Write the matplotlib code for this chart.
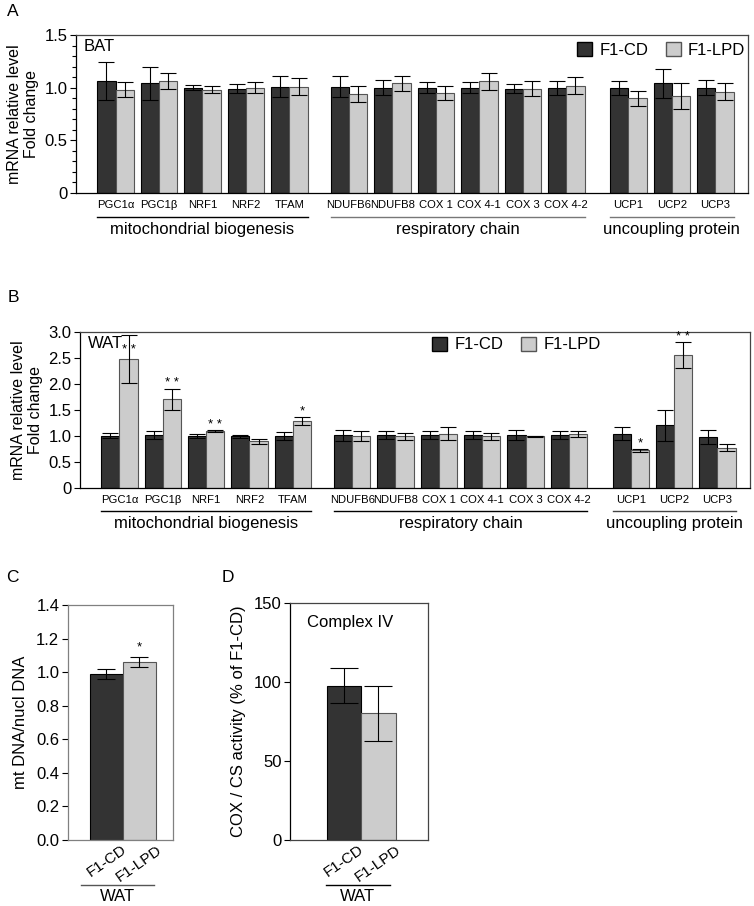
import numpy as np
import matplotlib
matplotlib.use('Agg')
import matplotlib.pyplot as plt
from matplotlib.patches import Patch
from matplotlib.ticker import MultipleLocator

plt.rcParams['font.family'] = ['Liberation Sans', 'DejaVu Sans']

# ---- data -------------------------------------------------------------
genes = ['PGC1α', 'PGC1β', 'NRF1', 'NRF2', 'TFAM',
         'NDUFB6', 'NDUFB8', 'COX 1', 'COX 4-1', 'COX 3', 'COX 4-2',
         'UCP1', 'UCP2', 'UCP3']
group_names = ['mitochondrial biogenesis', 'respiratory chain', 'uncoupling protein']
group_sizes = [5, 6, 3]

# panel A - BAT
bat_cd = [1.06, 1.04, 1.00, 0.99, 1.01, 1.01, 1.00, 1.00, 1.00, 0.99, 1.00, 1.00, 1.04, 1.00]
bat_cd_err = [0.18, 0.155, 0.025, 0.045, 0.10, 0.10, 0.07, 0.05, 0.05, 0.043, 0.068, 0.067, 0.14, 0.07]
bat_lpd = [0.98, 1.06, 0.98, 1.00, 1.01, 0.94, 1.04, 0.95, 1.06, 0.99, 1.02, 0.90, 0.92, 0.96]
bat_lpd_err = [0.07, 0.075, 0.035, 0.05, 0.078, 0.08, 0.07, 0.068, 0.082, 0.07, 0.08, 0.07, 0.12, 0.08]

# panel B - WAT
wat_cd = [1.00, 1.01, 0.99, 0.99, 1.00, 1.01, 1.01, 1.01, 1.01, 1.01, 1.01, 1.04, 1.20, 0.98]
wat_cd_err = [0.05, 0.083, 0.035, 0.03, 0.077, 0.105, 0.08, 0.083, 0.083, 0.093, 0.083, 0.128, 0.30, 0.13]
wat_lpd = [2.48, 1.70, 1.09, 0.89, 1.28, 0.99, 0.99, 1.04, 0.99, 0.99, 1.03, 0.72, 2.55, 0.77]
wat_lpd_err = [0.465, 0.205, 0.025, 0.045, 0.077, 0.095, 0.064, 0.128, 0.07, 0.013, 0.06, 0.032, 0.25, 0.07]
wat_stars = ['* *', '* *', '* *', '', '*', '', '', '', '', '', '', '*', '* *', '']

# panel C - mtDNA
groups_cd = ['F1-CD', 'F1-LPD']
mtdna = [0.99, 1.06]
mtdna_err = [0.03, 0.03]
mtdna_stars = ['', '*']

# panel D - COX/CS
cox = [97.5, 80.0]
cox_err = [11.0, 17.5]

DARK = '#333333'
LIGHT = '#cccccc'
FS = 12
W, H = 754, 906
fig = plt.figure(figsize=(W / 100, H / 100), dpi=100)


def px_axes(left, top, right, bottom):
    return fig.add_axes([left / W, 1 - bottom / H, (right - left) / W, (bottom - top) / H])


# x positions: groups separated by a wider gap
offsets = [0.0, 5.37, 11.8]
xpos = []
for off, n in zip(offsets, group_sizes):
    xpos.extend(off + np.arange(n))
xpos = np.array(xpos)
bw = 0.42


def gene_panel(ax, cd, cd_err, lpd, lpd_err, ymax, ystep, tissue, line_y, text_y,
               legend_xy, line_colors, minor=None, stars=None):
    ax.bar(xpos - bw / 2, cd, bw, color=DARK, edgecolor='black', linewidth=0.8)
    ax.bar(xpos + bw / 2, lpd, bw, color=LIGHT, edgecolor='#555555', linewidth=0.8)
    ax.errorbar(xpos - bw / 2, cd, yerr=cd_err, fmt='none', ecolor='black',
                elinewidth=0.8, capsize=5.5, capthick=0.8)
    ax.errorbar(xpos + bw / 2, lpd, yerr=lpd_err, fmt='none', ecolor='black',
                elinewidth=0.8, capsize=5.5, capthick=0.8)
    ax.set_xlim(-0.91, 14.55)
    ax.set_ylim(0, ymax)
    ax.set_yticks(np.arange(0, ymax + 1e-9, ystep))
    ax.set_yticklabels(['0'] + [f'{v:.1f}' for v in np.arange(ystep, ymax + 1e-9, ystep)])
    if minor:
        ax.yaxis.set_minor_locator(MultipleLocator(minor))
        ax.tick_params(axis='y', which='minor', length=3, width=0.8)
    ax.tick_params(axis='y', which='major', labelsize=FS, length=4, width=0.8, pad=2)
    ax.set_xticks(xpos)
    ax.set_xticklabels(genes, fontsize=8.1)
    ax.tick_params(axis='x', length=0, pad=5)
    ax.set_ylabel('mRNA relative level\nFold change', fontsize=11.5, labelpad=4)
    for s in ['top', 'right']:
        ax.spines[s].set_color('#444444')
    for sp in ax.spines.values():
        sp.set_linewidth(0.9)
    ax.text(0.012, 0.925, tissue, transform=ax.transAxes, fontsize=FS, va='center')

    trans = ax.get_xaxis_transform()
    start = 0
    for name, n, lc in zip(group_names, group_sizes, line_colors):
        x0 = xpos[start] - bw
        x1 = xpos[start + n - 1] + bw
        ax.plot([x0, x1], [line_y, line_y], color=lc, lw=1.0, transform=trans, clip_on=False)
        ax.text((x0 + x1) / 2, text_y, name, transform=trans, ha='center', va='center',
                fontsize=FS)
        start += n

    if stars:
        for x, m, e, s in zip(xpos + bw / 2, lpd, lpd_err, stars):
            if not s:
                continue
            y = m + e + 0.1
            if y > ymax - 0.05:
                y = m + 0.17
            ax.text(x, y, s, ha='center', va='center', fontsize=9.5)

    handles = [Patch(facecolor=DARK, edgecolor='black', label='F1-CD'),
               Patch(facecolor=LIGHT, edgecolor='#555555', label='F1-LPD')]
    ax.legend(handles=handles, loc='center left', bbox_to_anchor=legend_xy, ncol=2,
              frameon=False, fontsize=FS, handlelength=0.9, handleheight=0.9,
              handletextpad=0.45, columnspacing=1.05, borderpad=0, borderaxespad=0)


# ---- panel A ----
axA = px_axes(76, 35, 748, 193)
gene_panel(axA, bat_cd, bat_cd_err, bat_lpd, bat_lpd_err, 1.5, 0.5, 'BAT',
           -0.154, -0.234, (0.745, 0.905), ['black', '#777777', '#777777'], minor=0.1)

# ---- panel B ----
axB = px_axes(80, 331.7, 750, 487.7)
gene_panel(axB, wat_cd, wat_cd_err, wat_lpd, wat_lpd_err, 3.0, 0.5, 'WAT',
           -0.147, -0.228, (0.526, 0.917), ['black', 'black', '#444444'], stars=wat_stars)

# ---- panel C ----
axC = px_axes(67.7, 605, 172.7, 840)
xc = np.arange(2)
axC.bar(xc, mtdna, 1.0, color=[DARK, LIGHT], edgecolor=['black', '#555555'], linewidth=0.8)
axC.errorbar(xc, mtdna, yerr=mtdna_err, fmt='none', ecolor='black', elinewidth=0.8,
             capsize=6.8, capthick=0.8)
for x, m, e, s in zip(xc, mtdna, mtdna_err, mtdna_stars):
    if s:
        axC.text(x, m + e + 0.06, s, ha='center', va='center', fontsize=9.5)
axC.set_xlim(-1.17, 2.01)
axC.set_ylim(0, 1.4)
axC.set_yticks(np.arange(0, 1.41, 0.2))
axC.set_yticklabels([f'{v:.1f}' for v in np.arange(0, 1.41, 0.2)])
axC.tick_params(axis='y', labelsize=FS, length=4, width=0.8, pad=2)
axC.set_xticks(xc)
axC.set_xticklabels(groups_cd, rotation=35, ha='center', fontsize=11)
axC.tick_params(axis='x', length=0, pad=2)
axC.set_ylabel('mt DNA/nucl DNA', fontsize=FS, labelpad=6)
for sp in axC.spines.values():
    sp.set_color('#808080')
    sp.set_linewidth(0.9)
tC = axC.get_xaxis_transform()
axC.plot([-0.76, 1.44], [-0.191, -0.191], color='#555555', lw=1.0, transform=tC, clip_on=False)
axC.text(0.34, -0.241, 'WAT', transform=tC, ha='center', va='center', fontsize=FS)

# ---- panel D ----
axD = px_axes(290, 602.7, 428.3, 840)
axD.bar(xc, cox, 1.0, color=[DARK, LIGHT], edgecolor=['black', '#555555'], linewidth=0.8)
axD.errorbar(xc, cox, yerr=cox_err, fmt='none', ecolor='black', elinewidth=0.8,
             capsize=10.4, capthick=0.8)
axD.set_xlim(-1.56, 2.45)
axD.set_ylim(0, 150)
axD.set_yticks([0, 50, 100, 150])
axD.tick_params(axis='y', labelsize=FS, length=4, width=0.8, pad=2)
axD.set_xticks(xc)
axD.set_xticklabels(groups_cd, rotation=35, ha='center', fontsize=11)
axD.tick_params(axis='x', length=0, pad=2)
axD.set_ylabel('COX / CS activity (% of F1-CD)', fontsize=FS, labelpad=6)
for s in ['top', 'right', 'bottom']:
    axD.spines[s].set_color('#444444')
for sp in axD.spines.values():
    sp.set_linewidth(0.9)
axD.text(0.12, 0.917, 'Complex IV', transform=axD.transAxes, fontsize=FS, va='center')
tD = axD.get_xaxis_transform()
axD.plot([-0.52, 1.34], [-0.19, -0.19], color='black', lw=1.0, transform=tD, clip_on=False)
axD.text(0.41, -0.239, 'WAT', transform=tD, ha='center', va='center', fontsize=FS)

# panel letters
for lab, x, y in [('A', 13, 11), ('B', 13, 298), ('C', 12, 578), ('D', 228, 578)]:
    fig.text(x / W, 1 - y / H, lab, fontsize=12.5, ha='center', va='center')

fig.savefig('out.png', dpi=100)
